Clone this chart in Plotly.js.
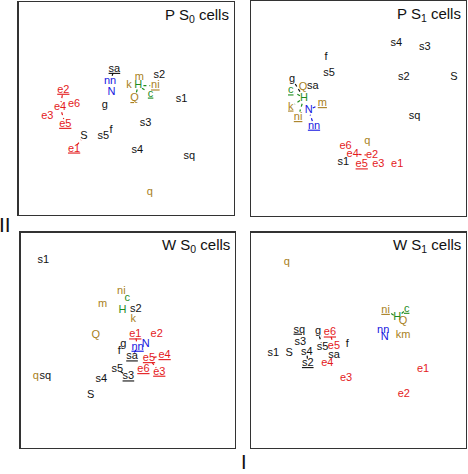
<!DOCTYPE html>
<html><head><meta charset="utf-8">
<script src="https://cdn.plot.ly/plotly-3.0.1.min.js"></script>
<style>html,body{margin:0;padding:0;background:#fff}</style>
</head><body><div id="chart" style="width:468px;height:474px"></div>
<script>
// ---- Panel 1: P S0 cells ----
const p1Labels = ['sa','nn','N','m','s2','k','H','ni','c','Q','s1','e2','e4','e6','e3','e5','g','s3','S','s5','f','e1','s4','sq','q'];
const p1X = [44.5,42.5,43.2,56.1,65.3,51.3,55.6,63.5,61.3,53.9,75.7,20.8,19.3,25.8,13.4,21.7,40.0,59.0,30.4,39.3,42.9,25.8,55.1,79.3,60.9];
const p1Y = [68.5,62.6,57.6,64.9,65.7,61.0,60.7,60.7,56.9,54.8,54.5,58.7,50.6,52.0,46.3,42.7,51.3,43.2,37.1,37.1,39.6,31.1,30.5,27.4,10.8];
const p1Under = ['sa','ni','c','Q','e2','e5','e1'];
const p1Links = [['sa','nn'],['H','ni'],['H','c'],['H','Q'],['e2','e4'],['e4','e5'],['e1','S']];

// ---- Panel 2: P S1 cells ----
const p2Labels = ['s4','s3','f','s5','s2','S','g','Q','sa','c','H','k','N','m','ni','nn','sq','q','e6','e4','e2','s1','e5','e3','e1'];
const p2X = [67.6,80.8,34.9,36.3,71.1,94.4,19.1,24.2,28.8,18.5,24.6,18.5,26.8,33.2,21.9,29.3,76.1,54.1,44.0,47.3,56.3,42.9,51.5,59.2,68.0];
const p2Y = [80.3,78.7,73.8,66.4,64.5,64.5,63.8,60.0,60.3,58.3,54.9,50.8,49.3,52.4,45.9,41.9,46.2,34.9,32.6,28.8,28.2,25.2,23.9,23.9,24.2];
const p2Under = ['c','k','m','ni','nn','e5'];
const p2Links = [['g','H'],['H','c'],['H','k'],['H','ni'],['N','m'],['nn','N'],['e4','e2']];

// ---- Panel 3: W S0 cells ----
const p3Labels = ['s1','ni','c','m','H','s2','k','Q','e1','e2','nn','N','g','f','sa','e5','e4','s5','e6','e3','s3','q','sq','s4','S'];
const p3X = [10.6,47.0,49.8,38.3,47.5,53.8,52.6,35.1,53.5,63.5,54.6,58.4,47.9,46.1,52.0,59.9,67.2,45.1,57.3,64.7,50.3,7.1,11.6,37.7,32.7];
const p3Y = [87.2,72.8,69.5,66.8,64.0,64.5,59.9,52.3,52.6,52.9,46.9,48.1,48.3,45.1,42.4,41.6,43.0,36.5,36.5,35.3,33.1,33.1,33.1,31.9,24.7];
const p3Under = ['e1','nn','sa','e5','e4','e6','e3','s3'];
const p3Links = [['e1','nn'],['nn','sa'],['e5','e4'],['e5','e3'],['s5','s3']];

// ---- Panel 4: W S1 cells ----
const p4Labels = ['q','ni','c','H','Q','nn','N','km','sq','g','e6','s3','s5','e5','f','s1','S','s4','sa','e4','s2','e3','e1','e2'];
const p4X = [16.6,62.6,72.4,68.0,70.7,61.5,62.2,70.7,22.5,31.2,36.7,22.9,33.3,38.6,44.8,10.4,17.8,26.0,38.6,35.5,26.4,44.2,80.0,71.1];
const p4Y = [86.4,64.0,64.5,60.6,58.9,54.8,51.4,52.3,54.8,54.0,53.5,49.0,46.7,47.0,48.3,44.2,44.1,44.4,43.2,39.3,39.3,32.3,36.5,25.1];
const p4Under = ['sq','g','e6','s2','ni','c'];
const p4Links = [['H','ni'],['c','H'],['g','s5'],['s4','s2'],['e6','e5']];

const panelTitles = ['P S<sub>0</sub> cells','P S<sub>1</sub> cells','W S<sub>0</sub> cells','W S<sub>1</sub> cells'];
const axisLabelX = 'I', axisLabelY = 'II';

const RED='#e41a1c', GOLD='#a87f22', GREEN='#1e8c1e', BLUE='#1515e0', BLACK='#111111';
function colorOf(l){
  if(/^e\d/.test(l)) return RED;
  if(l==='H'||l==='c') return GREEN;
  if(l==='N'||l==='nn') return BLUE;
  if(['q','Q','m','k','ni','km'].includes(l)) return GOLD;
  return BLACK;
}
const FONT = '"Liberation Sans", Arial, sans-serif';
const panels = [
  {labels:p1Labels,x:p1X,y:p1Y,under:p1Under,links:p1Links},
  {labels:p2Labels,x:p2X,y:p2Y,under:p2Under,links:p2Links},
  {labels:p3Labels,x:p3X,y:p3Y,under:p3Under,links:p3Links},
  {labels:p4Labels,x:p4X,y:p4Y,under:p4Under,links:p4Links}
];
const traces=[];
panels.forEach((p,i)=>{
  const xa = i===0?'x':'x'+(i+1), ya = i===0?'y':'y'+(i+1);
  p.links.forEach(([a,b])=>{
    const ia=p.labels.indexOf(a), ib=p.labels.indexOf(b);
    const x0=p.x[ia], y0=p.y[ia], x1=p.x[ib], y1=p.y[ib];
    const d=Math.hypot(x1-x0,y1-y0); const s=Math.min(2.8,0.3*d);
    const ux=(x1-x0)/d, uy=(y1-y0)/d;
    traces.push({x:[x0+ux*s,x1-ux*s],y:[y0+uy*s,y1-uy*s],xaxis:xa,yaxis:ya,mode:'lines',
      line:{color:colorOf(a),width:1.2,dash:'dot'},hoverinfo:'skip',showlegend:false});
  });
  traces.push({x:p.x,y:p.y,xaxis:xa,yaxis:ya,mode:'text',
    text:p.labels.map(l=>p.under.includes(l)?'<u>'+l+'</u>':l),
    textposition:'middle center',
    textfont:{family:FONT,size:11,color:p.labels.map(colorOf)},
    hoverinfo:'skip',showlegend:false,cliponaxis:false});
});
const W=468,H=474;
function ax(d,anchor){return {domain:d,anchor:anchor,range:[0,100],showticklabels:false,ticks:'',showgrid:false,zeroline:false,
  showline:true,mirror:true,linecolor:'#333',linewidth:1.2,fixedrange:true};}
const layout={width:W,height:H,margin:{l:0,r:0,t:0,b:0},paper_bgcolor:'#fff',plot_bgcolor:'#fff',showlegend:false,
  xaxis:ax([18.5/W,234/W],'y'), yaxis:ax([1-215/H,1-2/H],'x'),
  xaxis2:ax([251/W,466/W],'y2'), yaxis2:ax([1-216/H,1-1/H],'x2'),
  xaxis3:ax([20.5/W,235/W],'y3'), yaxis3:ax([1-448/H,1-232.5/H],'x3'),
  xaxis4:ax([251/W,466/W],'y4'), yaxis4:ax([1-448/H,1-232.5/H],'x4'),
  annotations:[]};
panelTitles.forEach((t,i)=>{
  const s=i===0?'':String(i+1);
  layout.annotations.push({text:t,xref:'x'+s+' domain',yref:'y'+s+' domain',x:1,y:1,xanchor:'right',yanchor:'top',
    xshift:-3,yshift:-2,showarrow:false,font:{family:FONT,size:15,color:'#111'}});
});
layout.annotations.push({text:axisLabelY,xref:'paper',yref:'paper',x:5/W,y:1-224/H,xanchor:'center',yanchor:'middle',showarrow:false,font:{family:FONT,size:21,color:'#111'}});
layout.annotations.push({text:axisLabelX,xref:'paper',yref:'paper',x:244/W,y:0,xanchor:'center',yanchor:'bottom',yshift:-1,showarrow:false,font:{family:FONT,size:20,color:'#111'}});
Plotly.newPlot('chart',traces,layout,{staticPlot:true,displayModeBar:false});
</script></body></html>
